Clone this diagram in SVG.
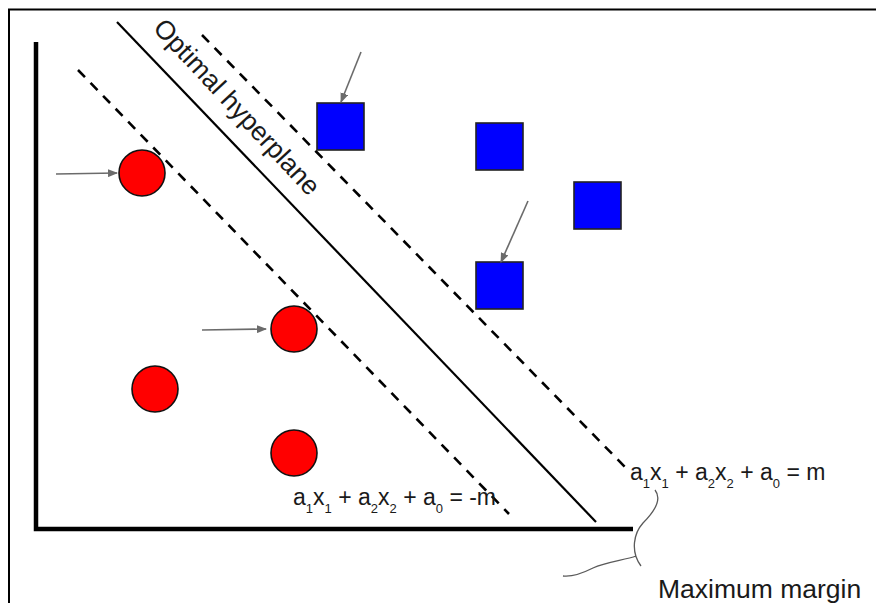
<svg xmlns="http://www.w3.org/2000/svg" width="876" height="603" viewBox="0 0 876 603">
<style>
  .frame{stroke:#000;stroke-width:2;fill:none}
  .axis{stroke:#000;stroke-width:4.5;fill:none;stroke-linejoin:miter}
  .hyper{stroke:#000;stroke-width:2.2;fill:none}
  .dash{stroke:#000;stroke-width:2.6;fill:none;stroke-dasharray:10 8}
  .circ{fill:#ff0000;stroke:#111;stroke-width:1.6}
  .sq{fill:#0000ff;stroke:#222;stroke-width:1.6}
  .arr{stroke:#6b6b6b;stroke-width:1.6;fill:none;marker-end:url(#ah)}
  .lbl{font-family:"Liberation Sans",Arial,sans-serif;fill:#1a1a1a}
  .eq{font-size:23px}
  .sub{font-size:13px}
  .brace{stroke:#5a5a5a;stroke-width:1.3;fill:none}
</style>
<defs>
  <marker id="ah" markerWidth="10" markerHeight="8" refX="9" refY="4" orient="auto" markerUnits="userSpaceOnUse">
    <path d="M0,0 L10,4 L0,8 Z" fill="#6b6b6b"/>
  </marker>
</defs>
<rect width="876" height="603" fill="#fff"/>
<g id="frame">
  <path class="frame" d="M9,603 V9.5 H876"/>
</g>
<g id="axes">
  <path class="axis" d="M36,42 V529 H633"/>
</g>
<g id="hyperplanes">
  <line id="optimal-hyperplane" class="hyper" x1="117" y1="22" x2="596" y2="522"/>
  <line id="margin-upper" class="dash" x1="202" y1="35" x2="625" y2="467"/>
  <line id="margin-lower" class="dash" x1="78" y1="70" x2="509" y2="514"/>
</g>
<g id="circles">
  <g id="c1"><circle class="circ" cx="142" cy="173" r="23"/></g>
  <g id="c2"><circle class="circ" cx="294" cy="329" r="23"/></g>
  <g id="c3"><circle class="circ" cx="155" cy="389" r="23"/></g>
  <g id="c4"><circle class="circ" cx="294" cy="453" r="23"/></g>
</g>
<g id="squares">
  <g id="s1"><rect class="sq" x="317" y="103" width="47" height="47"/></g>
  <g id="s2"><rect class="sq" x="476" y="123" width="47" height="47"/></g>
  <g id="s3"><rect class="sq" x="574" y="182" width="47" height="47"/></g>
  <g id="s4"><rect class="sq" x="476" y="262" width="47" height="47"/></g>
</g>
<g id="connectors">
  <line class="arr" x1="56" y1="174" x2="117" y2="173"/>
  <line class="arr" x1="202" y1="330" x2="266" y2="329"/>
  <line class="arr" x1="361" y1="52" x2="341" y2="102"/>
  <line class="arr" x1="528" y1="201" x2="501" y2="262"/>
</g>
<g id="label-optimal">
  <text class="lbl" font-size="26.5" transform="translate(152,29) rotate(47)">Optimal hyperplane</text>
</g>
<g id="label-eq-lower">
  <text class="lbl eq" x="293" y="505">a<tspan class="sub" dy="8">1</tspan><tspan dy="-8">x</tspan><tspan class="sub" dy="8">1</tspan><tspan dy="-8"> + a</tspan><tspan class="sub" dy="8">2</tspan><tspan dy="-8">x</tspan><tspan class="sub" dy="8">2</tspan><tspan dy="-8"> + a</tspan><tspan class="sub" dy="8">0</tspan><tspan dy="-8"> = -m</tspan></text>
</g>
<g id="label-eq-upper">
  <text class="lbl eq" x="630" y="480">a<tspan class="sub" dy="8">1</tspan><tspan dy="-8">x</tspan><tspan class="sub" dy="8">1</tspan><tspan dy="-8"> + a</tspan><tspan class="sub" dy="8">2</tspan><tspan dy="-8">x</tspan><tspan class="sub" dy="8">2</tspan><tspan dy="-8"> + a</tspan><tspan class="sub" dy="8">0</tspan><tspan dy="-8"> = m</tspan></text>
</g>
<g id="brace">
  <path class="brace" d="M655,490 C663,500 652,514 643,523 C634,533 630,551 641,566 M636,556 C625,560 606,562 593,568 C581,574 571,577 563,576"/>
</g>
<g id="label-margin">
  <text class="lbl" font-size="26.5" x="658" y="598">Maximum margin</text>
</g>
</svg>
